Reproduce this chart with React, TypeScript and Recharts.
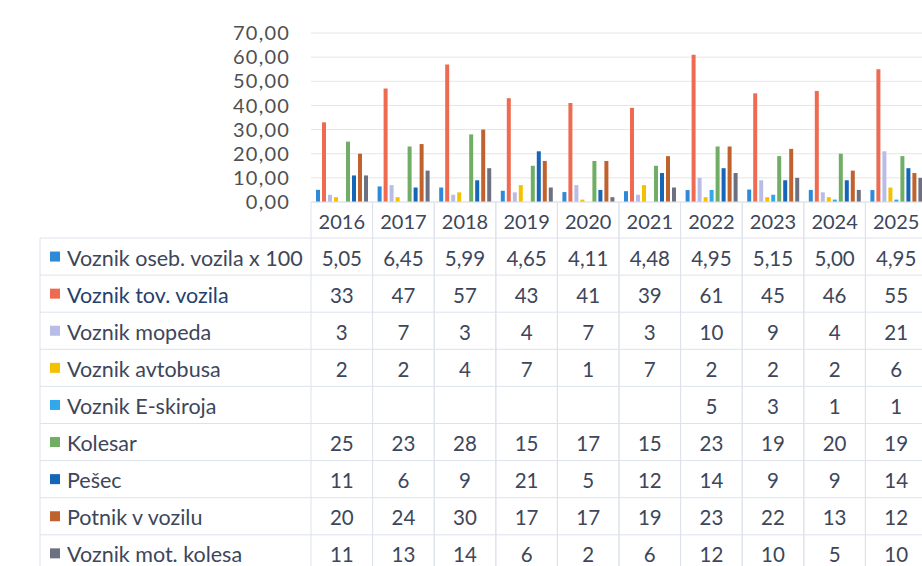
import React from 'react';
import { BarChart, Bar, XAxis, YAxis, CartesianGrid } from 'recharts';

const years = ['2016', '2017', '2018', '2019', '2020', '2021', '2022', '2023', '2024', '2025'];
const osebX100 = [5.05, 6.45, 5.99, 4.65, 4.11, 4.48, 4.95, 5.15, 5.0, 4.95];
const tovVozila = [33, 47, 57, 43, 41, 39, 61, 45, 46, 55];
const mopeda = [3, 7, 3, 4, 7, 3, 10, 9, 4, 21];
const avtobusa = [2, 2, 4, 7, 1, 7, 2, 2, 2, 6];
const eSkiroja: (number | null)[] = [null, null, null, null, null, null, 5, 3, 1, 1];
const kolesar = [25, 23, 28, 15, 17, 15, 23, 19, 20, 19];
const pesec = [11, 6, 9, 21, 5, 12, 14, 9, 9, 14];
const potnik = [20, 24, 30, 17, 17, 19, 23, 22, 13, 12];
const motKolesa = [11, 13, 14, 6, 2, 6, 12, 10, 5, 10];
const yTicks = [0, 10, 20, 30, 40, 50, 60, 70];

const seriesNames = [
  'Voznik oseb. vozila x 100',
  'Voznik tov. vozila',
  'Voznik mopeda',
  'Voznik avtobusa',
  'Voznik E-skiroja',
  'Kolesar',
  'Pešec',
  'Potnik v vozilu',
  'Voznik mot. kolesa',
];
const seriesKeys = ['oseb', 'tov', 'mopeda', 'avtobusa', 'skiroja', 'kolesar', 'pesec', 'potnik', 'motkolesa'];
const seriesValues = [osebX100, tovVozila, mopeda, avtobusa, eSkiroja, kolesar, pesec, potnik, motKolesa];
const seriesColors = ['#2e8ad8', '#ee6a50', '#b8bce6', '#f5c000', '#30a8ea', '#6fae64', '#1565b8', '#c0622e', '#6c7080'];

const data = years.map((y, i) => {
  const row: Record<string, any> = { year: y };
  seriesKeys.forEach((k, s) => {
    row[k] = seriesValues[s][i];
  });
  return row;
});

const FONT = 'Lato, "Liberation Sans", sans-serif';
const COL_W = 61.6;
const HEADER_H = 36;
const ROW_H = 37.1;
const TABLE_LEFT = 40;
const GRID = '#dde2ec';
const TEXT = '#3d465a';

const fmt = (s: number, v: number | null) => {
  if (v === null || v === undefined) return '';
  if (s === 0) return v.toFixed(2).replace('.', ',');
  return String(v);
};

const TableTick = (props: any) => {
  const { x, y, payload } = props;
  const i = years.indexOf(String(payload.value));
  const left = x - COL_W / 2;
  const right = x + COL_W / 2;
  const bodyTop = y + HEADER_H;
  const bottom = bodyTop + ROW_H * seriesNames.length;
  const els: React.ReactNode[] = [];
  els.push(<line key="hl" x1={left} x2={left} y1={y} y2={bottom} stroke={GRID} strokeWidth={1} />);
  els.push(<line key="hr" x1={right} x2={right} y1={y} y2={bottom} stroke={GRID} strokeWidth={1} />);
  els.push(<line key="ht" x1={left} x2={right} y1={y} y2={y} stroke={GRID} strokeWidth={1} />);
  els.push(
    <text key="yr" x={x} y={y + HEADER_H / 2 + 1} textAnchor="middle" dominantBaseline="central" fontSize={20} fill={TEXT} fontFamily={FONT}>
      {payload.value}
    </text>
  );
  seriesNames.forEach((_, s) => {
    const top = bodyTop + s * ROW_H;
    els.push(<line key={'r' + s} x1={left} x2={right} y1={top} y2={top} stroke={GRID} strokeWidth={1} />);
    const v = seriesValues[s][i];
    els.push(
      <text key={'v' + s} x={x} y={top + ROW_H / 2 + 1} textAnchor="middle" dominantBaseline="central" fontSize={20.5} fill={TEXT} fontFamily={FONT}>
        {fmt(s, v as any)}
      </text>
    );
  });
  if (i === 0) {
    els.push(<line key="ll" x1={TABLE_LEFT} x2={TABLE_LEFT} y1={bodyTop} y2={bottom} stroke={GRID} strokeWidth={1} />);
    seriesNames.forEach((name, s) => {
      const top = bodyTop + s * ROW_H;
      els.push(<line key={'lr' + s} x1={TABLE_LEFT} x2={left} y1={top} y2={top} stroke={GRID} strokeWidth={1} />);
      els.push(<rect key={'lg' + s} x={TABLE_LEFT + 10} y={top + ROW_H / 2 - 5} width={10} height={10} fill={seriesColors[s]} />);
      els.push(
        <text key={'ln' + s} x={TABLE_LEFT + 27} y={top + ROW_H / 2 + 1} textAnchor="start" dominantBaseline="central" fontSize={21.5} fill={s === 1 ? '#24406e' : TEXT} fontFamily={FONT}>
          {name}
        </text>
      );
    });
  }
  return <g>{els}</g>;
};

export default function App() {
  return (
    <div style={{ position: 'fixed', left: 0, top: 0, width: 922, height: 566, overflow: 'hidden', background: '#fff' }}>
      <BarChart
        width={930}
        height={566}
        data={data}
        margin={{ top: 33, right: 3, left: 231, bottom: 0 }}
        barCategoryGap={5}
        barGap={2}
      >
        <CartesianGrid horizontal vertical={false} stroke="#e6e6e6" />
        <YAxis
          width={80}
          domain={[0, 70]}
          ticks={yTicks}
          interval={0}
          axisLine={false}
          tickLine={false}
          tickSize={0}
          tickMargin={21}
          tickFormatter={(v: number) => v.toFixed(2).replace('.', ',')}
          tick={{ fontSize: 20, fill: '#505050', fontFamily: FONT, letterSpacing: 1.2 }}
        />
        <XAxis
          dataKey="year"
          height={364}
          axisLine={false}
          tickLine={false}
          tickSize={0}
          tickMargin={0}
          interval={0}
          tick={<TableTick />}
        />
        {seriesKeys.map((k, s) => (
          <Bar key={k} dataKey={k} name={seriesNames[s]} fill={seriesColors[s]} isAnimationActive={false} />
        ))}
      </BarChart>
    </div>
  );
}
